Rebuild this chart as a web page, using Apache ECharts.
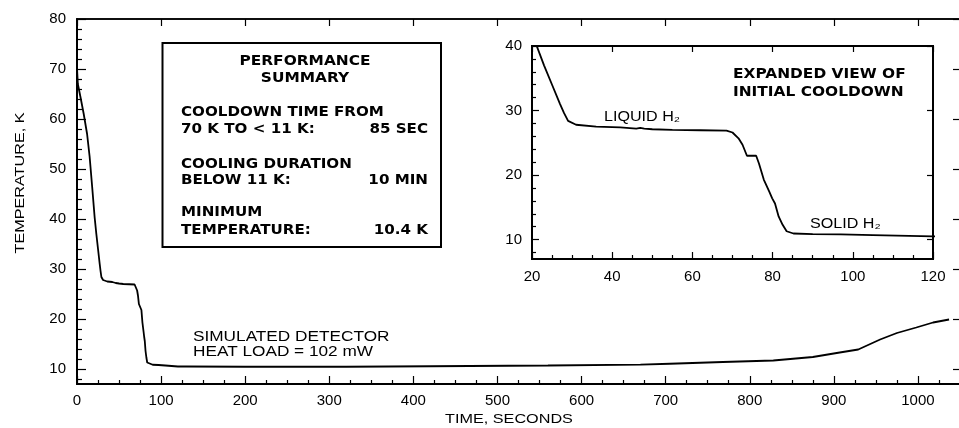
<!DOCTYPE html>
<html>
<head>
<meta charset="utf-8">
<script src="https://cdn.jsdelivr.net/npm/echarts@6.0.0/dist/echarts.min.js"></script>
<style>
  html, body { margin: 0; padding: 0; background: #fff; }
  .w { width: 959px; height: 428px; overflow: hidden; position: relative; }
  .c { width: 959px; height: 428px; transform: scale(1); transform-origin: 0 0; position: absolute; left: 0; top: 0; }
</style>
</head>
<body>
<div class="w"><div id="cool" class="c"></div></div>
<script>
// cooldown curve (seconds, kelvin)
const timeSec = [0, 1, 4, 8, 12, 15, 18, 21, 23, 25, 27, 28, 29, 31, 36, 42, 46, 47, 48, 50,
  55, 62, 68.5, 70, 71.5, 72.5, 73.6, 75.9, 76.6, 77.8, 79.2, 79.9, 80.6, 81.5, 82.5, 83.5,
  85.2, 90, 97, 105, 120, 130, 200, 320, 420, 560, 670, 705, 768, 828, 875, 907, 929, 955,
  975, 998, 1018, 1037];
const tempK = [70.2, 67, 64.5, 61, 57, 52.5, 46.5, 40.3, 37, 34, 31, 29.6, 28.4, 27.8, 27.5, 27.4, 27.2, 27.3, 27.2, 27.1,
  27.0, 26.95, 26.9, 26.6, 25.7, 24.7, 23.0, 23.0, 21.8, 19.3, 17.4, 16.4, 15.6, 13.6, 12.3, 11.3,
  10.95, 10.85, 10.8, 10.7, 10.5, 10.5, 10.45, 10.45, 10.55, 10.7, 10.86, 11.05, 11.4, 11.7, 12.4, 13.3, 13.9, 15.9,
  17.2, 18.3, 19.3, 19.9];

// axis ranges and tick steps
const mainX = { min: 0, max: 1050, step: 25, minor: 25, major: 100 };
const mainY = { min: 7, max: 80, step: 1, minor: 2, major: 10 };
const insetX = { min: 20, max: 120, step: 5, minor: 5, major: 20 };
const insetY = { min: 7, max: 40, step: 1, minor: 2, major: 10 };

const curve = timeSec.map((t, i) => [t, tempK[i]]);

const LABEL_FONT = 'Liberation Sans, Arial, sans-serif';

// evenly spaced slots so a category axis lines up with the value axis
function slots(r) {
  const out = [];
  for (let v = r.min; v <= r.max; v += r.step) out.push(String(v));
  return out;
}

function valueAxis(grid, pos, r) {
  return {
    type: 'value', gridIndex: grid, position: pos, min: r.min, max: r.max,
    axisLine: { show: false }, axisTick: { show: false }, axisLabel: { show: false },
    splitLine: { show: false }
  };
}

// category axis used only for the tick marks and tick labels
function tickAxis(grid, pos, r, major, len, lineW, labelMargin) {
  const pick = (i, v) => {
    const n = Number(v);
    return major ? n % r.major === 0 : (n % r.minor === 0 && n % r.major !== 0);
  };
  return {
    type: 'category', gridIndex: grid, position: pos, boundaryGap: false,
    data: slots(r),
    axisLine: { show: lineW > 0, onZero: false, lineStyle: { color: '#000', width: lineW || 1 } },
    axisTick: { show: true, inside: true, length: len, interval: pick,
      lineStyle: { color: '#000', width: 1.2 } },
    axisLabel: labelMargin ? { show: true, interval: pick, color: '#000', fontSize: 15,
      fontFamily: LABEL_FONT, margin: labelMargin } : { show: false },
    splitLine: { show: false }
  };
}

function txt(str, x, y, opts) {
  opts = opts || {};
  return {
    type: 'text', x: x, y: y, silent: true, z: 100,
    rotation: opts.rot || 0,
    scaleX: opts.sx || 1,
    style: {
      text: str, x: 0, y: 0,
      font: (opts.bold ? 'bold ' : '') + (opts.size || 14) + 'px ' + (opts.bold ? 'DejaVu Sans, sans-serif' : LABEL_FONT),
      fill: '#000',
      textAlign: opts.align || 'left',
      textVerticalAlign: 'middle'
    }
  };
}

const option = {
  animation: false,
  backgroundColor: '#fff',
  grid: [
    { left: 77, top: 19, width: 883, height: 365, outerBoundsMode: 'none',
      show: true, borderColor: '#000', borderWidth: 1.5, backgroundColor: 'transparent' },
    { left: 532, top: 46, width: 401, height: 213, outerBoundsMode: 'none',
      show: true, borderColor: '#000', borderWidth: 2, backgroundColor: 'transparent' }
  ],
  xAxis: [
    valueAxis(0, 'bottom', mainX),
    tickAxis(0, 'bottom', mainX, true, 8, 2, 9),
    tickAxis(0, 'bottom', mainX, false, 4, 0, 0),
    tickAxis(0, 'top', mainX, true, 7, 1.5, 0),
    valueAxis(1, 'bottom', insetX),
    tickAxis(1, 'bottom', insetX, true, 7, 2, 10),
    tickAxis(1, 'bottom', insetX, false, 4, 0, 0),
    tickAxis(1, 'top', insetX, true, 6, 2, 0)
  ],
  yAxis: [
    valueAxis(0, 'left', mainY),
    tickAxis(0, 'left', mainY, true, 9, 2, 11),
    tickAxis(0, 'left', mainY, false, 5, 0, 0),
    tickAxis(0, 'right', mainY, true, 7, 1.5, 0),
    valueAxis(1, 'left', insetY),
    tickAxis(1, 'left', insetY, true, 7, 2, 10),
    tickAxis(1, 'left', insetY, false, 4, 0, 0),
    tickAxis(1, 'right', insetY, true, 6, 2, 0)
  ],
  series: [
    {
      type: 'line', xAxisIndex: 0, yAxisIndex: 0, data: curve,
      showSymbol: false,
      lineStyle: { color: '#000', width: 1.8 }
    },
    {
      type: 'line', xAxisIndex: 4, yAxisIndex: 4, data: curve,
      showSymbol: false,
      lineStyle: { color: '#000', width: 1.8 }
    }
  ],
  graphic: [
    {
      type: 'rect', silent: true, z: 90,
      shape: { x: 162.5, y: 43, width: 278.5, height: 204 },
      style: { fill: '#fff', stroke: '#000', lineWidth: 2 }
    },
    txt('PERFORMANCE', 305, 61, { bold: true, align: 'center', sx: 1.1 }),
    txt('SUMMARY', 305, 78, { bold: true, align: 'center', sx: 1.1 }),
    txt('COOLDOWN TIME FROM', 181, 112, { bold: true, sx: 1.08 }),
    txt('70 K TO < 11 K:', 181, 129, { bold: true, sx: 1.08 }),
    txt('85 SEC', 428, 129, { bold: true, align: 'right', sx: 1.08 }),
    txt('COOLING DURATION', 181, 164, { bold: true, sx: 1.08 }),
    txt('BELOW 11 K:', 181, 180, { bold: true, sx: 1.08 }),
    txt('10 MIN', 428, 180, { bold: true, align: 'right', sx: 1.08 }),
    txt('MINIMUM', 181, 212.5, { bold: true, sx: 1.08 }),
    txt('TEMPERATURE:', 181, 230, { bold: true, sx: 1.08 }),
    txt('10.4 K', 428, 230, { bold: true, align: 'right', sx: 1.08 }),

    txt('EXPANDED VIEW OF', 733, 74, { bold: true, sx: 1.1 }),
    txt('INITIAL COOLDOWN', 733, 92, { bold: true, sx: 1.1 }),
    txt('LIQUID H₂', 604, 117, { sx: 1.15 }),
    txt('SOLID H₂', 810, 224, { sx: 1.15 }),

    txt('SIMULATED DETECTOR', 193, 337, { sx: 1.23 }),
    txt('HEAT LOAD = 102 mW', 193, 352, { sx: 1.23 }),
    txt('TIME, SECONDS', 509, 419, { size: 13.5, align: 'center', sx: 1.2 }),
    txt('TEMPERATURE, K', 20, 183, { size: 13.5, align: 'center', sx: 1.2, rot: Math.PI / 2 })
  ]
};

const coolChart = echarts.init(document.getElementById('cool'));
coolChart.setOption(option);
</script>
</body>
</html>
